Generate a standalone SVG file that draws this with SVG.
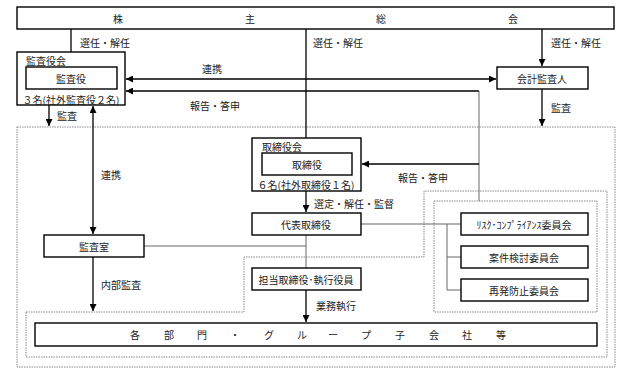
<svg xmlns="http://www.w3.org/2000/svg" width="636" height="383" viewBox="0 0 636 383">
<defs>
<marker id="ah" viewBox="0 0 10 10" refX="10" refY="5" markerWidth="7" markerHeight="7" markerUnits="userSpaceOnUse" orient="auto-start-reverse"><path d="M0,0 L10,5 L0,10 z" fill="#000"/></marker>
</defs>
<style>
text{font-family:"Noto Sans CJK JP","Noto Sans",sans-serif;font-size:10px;fill:#222;dominant-baseline:central}
.c{text-anchor:middle}
.box{fill:#fff;stroke:#000;stroke-width:1.4}
.ln{fill:none;stroke:#000;stroke-width:1.3}
.th{fill:none;stroke:#666;stroke-width:1}
.dot{fill:none;stroke:#888;stroke-width:1;stroke-dasharray:1.5 1}
</style>
<rect width="636" height="383" fill="#fff"/>
<g id="regions">
<rect class="dot" x="17" y="127" width="598" height="240"/>
<path class="dot" d="M26,312 H244 V257 H424 V191 H607 V357 H26 Z"/>
<rect class="dot" x="434" y="201" width="163" height="111"/>
</g>
<g id="connectors">
<path class="ln" d="M71,29 V66" marker-end="url(#ah)"/>
<path class="ln" d="M306,29 V152" marker-end="url(#ah)"/>
<path class="ln" d="M542,29 V66" marker-end="url(#ah)"/>
<path class="ln" d="M126,79 H496" marker-start="url(#ah)" marker-end="url(#ah)"/>
<path class="ln" d="M479,91 H126" marker-end="url(#ah)"/>
<path class="th" d="M479,91 V201"/>
<path class="ln" d="M479,164 H362" marker-end="url(#ah)"/>
<path class="ln" d="M49,105 V126" marker-end="url(#ah)"/>
<path class="ln" d="M542,89 V126" marker-end="url(#ah)"/>
<path class="ln" d="M93,106 V234" marker-start="url(#ah)" marker-end="url(#ah)"/>
<path class="ln" d="M306,191 V212" marker-end="url(#ah)"/>
<path class="th" d="M306,235 V268"/>
<path class="th" d="M144,246 H306"/>
<path class="ln" d="M93,257 V311" marker-end="url(#ah)"/>
<path class="ln" d="M306,290 V322" marker-end="url(#ah)"/>
<path class="th" d="M361,224 H461 M447,224 V290 H461 M447,257 H461"/>
</g>
<g id="labels">
<text x="80" y="42">選任・解任</text>
<text x="313" y="42">選任・解任</text>
<text x="551" y="42">選任・解任</text>
<text class="c" x="212" y="68">連携</text>
<text x="190" y="105">報告・答申</text>
<text x="57" y="115">監査</text>
<text x="551" y="107">監査</text>
<text x="101" y="174">連携</text>
<text x="398" y="177">報告・答申</text>
<text x="314" y="203">選定・解任・監督</text>
<text x="101" y="284">内部監査</text>
<text x="316" y="305">業務執行</text>
</g>
<g id="shareholders">
<rect class="box" x="17" y="7" width="597" height="22"/>
<text class="c" x="118" y="18">株</text>
<text class="c" x="250" y="18">主</text>
<text class="c" x="381" y="18">総</text>
<text class="c" x="513" y="18">会</text>
</g>
<g id="kansayakukai">
<rect class="box" x="17" y="52" width="108" height="53"/>
<text x="26" y="60">監査役会</text>
<rect class="box" x="26" y="67" width="91" height="22"/>
<text class="c" x="71" y="78">監査役</text>
<text class="c" x="71" y="99">３名(社外監査役２名)</text>
</g>
<g id="kaikei">
<rect class="box" x="497" y="67" width="91" height="22"/>
<text class="c" x="542" y="78">会計監査人</text>
</g>
<g id="torishimariyakukai">
<rect class="box" x="252" y="138" width="109" height="53"/>
<text x="262" y="146">取締役会</text>
<rect class="box" x="262" y="153" width="90" height="22"/>
<text class="c" x="307" y="164">取締役</text>
<text class="c" x="306" y="184">６名(社外取締役１名)</text>
</g>
<g id="daihyo">
<rect class="box" x="252" y="213" width="109" height="22"/>
<text class="c" x="306" y="224">代表取締役</text>
</g>
<g id="kansashitsu">
<rect class="box" x="44" y="235" width="100" height="22"/>
<text class="c" x="94" y="246">監査室</text>
</g>
<g id="tanto">
<rect class="box" x="252" y="268" width="109" height="22"/>
<text class="c" x="306" y="279">担当取締役･執行役員</text>
</g>
<g id="risk">
<rect class="box" x="461" y="213" width="127" height="22"/>
<text class="c" x="524" y="224">ﾘｽｸ･ｺﾝﾌﾟﾗｲｱﾝｽ委員会</text>
</g>
<g id="anken">
<rect class="box" x="461" y="246" width="127" height="22"/>
<text class="c" x="524" y="257">案件検討委員会</text>
</g>
<g id="saihatsu">
<rect class="box" x="461" y="279" width="127" height="22"/>
<text class="c" x="524" y="290">再発防止委員会</text>
</g>
<g id="kakubumon">
<rect class="box" x="35" y="323" width="562" height="23"/>
<text class="c" x="135" y="334">各</text>
<text class="c" x="169" y="334">部</text>
<text class="c" x="202" y="334">門</text>
<text class="c" x="235" y="334">・</text>
<text class="c" x="269" y="334">グ</text>
<text class="c" x="302" y="334">ル</text>
<text class="c" x="333" y="334">ー</text>
<text class="c" x="366" y="334">プ</text>
<text class="c" x="400" y="334">子</text>
<text class="c" x="434" y="334">会</text>
<text class="c" x="467" y="334">社</text>
<text class="c" x="501" y="334">等</text>
</g>
</svg>
